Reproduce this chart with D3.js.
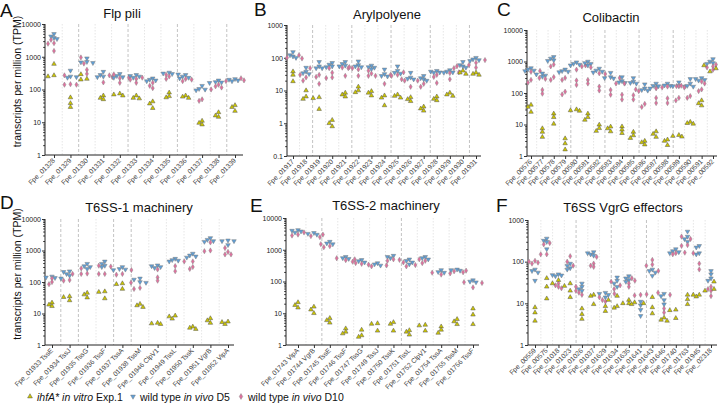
<!DOCTYPE html>
<html><head><meta charset="utf-8">
<script src="https://cdn.jsdelivr.net/npm/d3@7"></script>
<style>body{margin:0;background:#fff}svg{display:block}text{font-family:"Liberation Sans",Arial,sans-serif}</style>
</head><body><svg id="c" width="719" height="406"></svg>
<script>
// ---------- DATA ----------
const catsA = ["Fpe_01328","Fpe_01329","Fpe_01330","Fpe_01331","Fpe_01332","Fpe_01333","Fpe_01334","Fpe_01335","Fpe_01336","Fpe_01337","Fpe_01338","Fpe_01339"];
const ihfA_A = [[600,270,250],[57,38,29],[290,210,200],[65,55,50],[75,70,65],[65,55,53],[43,37,27],[80,62,57],[65,60,55],[11,9.5,8.5],[20,16,14.5],[33,29,22]];
const d5_A = [[5000,4200,3800,3500],[380,250,230,240],[900,700,680,650],[350,280,250,240],[300,260,240,230],[280,260,250,230],[220,200,190,180],[330,310,300,290],[280,250,230,220],[130,105,100,95],[190,170,165,160],[210,200,190,180]];
const d10_A = [[3300,2600,2500,1500],[270,145,140,140],[950,620,400,300],[270,240,165],[290,230,220,160],[230,210,200,160],[160,130,110],[280,250,210],[210,200,180],[100,50,45],[140,125,115],[220,190,180]];
const ticksA = [1,10,100,1000,10000];

const catsB = ["Fpe_01917","Fpe_01918","Fpe_01919","Fpe_01920","Fpe_01921","Fpe_01922","Fpe_01923","Fpe_01924","Fpe_01925","Fpe_01926","Fpe_01927","Fpe_01928","Fpe_01929","Fpe_01930","Fpe_01931"];
const ihfA_B = [[38,30,19],[10,6.5,5.5],[6.2,5.8,2.7],[1.25,1.0,0.8],[8.5,7.5,6.5],[13,10,8.8],[9.5,8.5,7],[7,6,3.5],[7.5,6.8,6],[6.2,5.4,4.7],[3.2,2.8,2.4],[6.5,5.5,5],[8.5,7.5,6.8],[40,35,32],[35,32,30]];
const d5_B = [[150,120,110,100],[50,38,34,32],[75,55,48,48],[70,62,55,52],[75,65,58,55],[78,60,55,52],[58,52,50,45],[44,32,28,27],[55,40,35,33],[35,25,23,22],[28,24,22,20],[40,38,36,35],[42,38,36,35],[75,60,55,50],[100,90,85,80]];
const d10_B = [[120,100,95],[30,25,20],[48,30,26,16],[48,35,25,24],[50,48,28],[52,48,44,28],[40,33,28],[30,28,16],[36,30,28],[22,20,13],[20,16,13],[30,26,17],[36,34,22],[60,55,48],[85,70,50]];
const ticksB = [0.1,1,10,100,1000];

const catsC = ["Fpe_00576","Fpe_00577","Fpe_00578","Fpe_00579","Fpe_00580","Fpe_00581","Fpe_00582","Fpe_00583","Fpe_00584","Fpe_00585","Fpe_00586","Fpe_00587","Fpe_00588","Fpe_00589","Fpe_00590","Fpe_00591","Fpe_00592"];
const ihfA_C = [[42,36,25],[7.5,5.8,4],[22,17,10.5],[3.6,2.5,1.6],[30,28,27],[22,17,14],[9.8,7.6,6.2],[8.5,7.5,6],[8.6,6.8,5.3],[5.8,4.5,3.7],[3.0,2.7,2.3],[6,5,4],[3.3,3.0,2.2],[4.6,4.3,4.1],[12,11,10.5],[58,47,40],[750,600,480]];
const d5_C = [[620,560,520,500],[420,390,360,330],[1400,1250,1100,1050],[560,500,480,460],[950,850,800,760],[1000,900,850,750],[600,520,480,450],[440,320,300,290],[320,240,220,210],[300,230,210,200],[190,140,125,120],[200,170,150,140],[200,175,170,165],[220,170,165,160],[280,200,170,160],[300,280,260,250],[1200,1000,900,850]];
const d10_C = [[500,470,260,215],[300,280,125,95],[800,700,320,260],[300,260,110,90],[750,550,250,180],[700,650,260,200],[420,400,160,120],[300,125,88],[200,88,62],[200,85,62],[130,115,45,36],[150,140,70,48],[165,160,68,48],[165,70,58],[170,150,80,70],[230,200,130,115],[800,700,650,550]];
const ticksC = [1,10,100,1000,10000];

const catsD = ["Fpe_01933 TssE","Fpe_01934 TssJ","Fpe_01935 TssG","Fpe_01936 TssF","Fpe_01937 TssA","Fpe_01938 TssM","Fpe_01946 ClpV1","Fpe_01949 TssL","Fpe_01950 TssK","Fpe_01951 VgrB","Fpe_01952 VipA"];
const ihfA_D = [[22,19,17],[35,33,26],[45,40,32],[50,48,30],[90,85,60],[20,18,16],[5,4.8,4.6],[8.5,8,6.8],[3.8,3.5,3.2],[7,6,5],[5.5,5.3,4.6]];
const d5_D = [[150,140,135,130],[220,210,180,160],[380,320,300,260],[450,380,330,300],[300,260,250,240],[130,120,100,95],[340,320,300,280],[550,500,480,450],[800,700,650,600],[2500,2200,2000,1900],[2100,2000,2000,1500]];
const d10_D = [[130,100,85],[180,115,110],[270,185,180],[330,310,180,180],[240,180,170],[95,65,60],[250,140,110],[450,320,220],[450,300,260],[1800,1000,950],[1200,900,750,750]];
const ticksD = [1,10,100,1000,10000];

const catsE = ["Fpe_01743 VipA","Fpe_01744 VgrB","Fpe_01745 TssE","Fpe_01746 TssF","Fpe_01747 TssG","Fpe_01749 TssJ","Fpe_01750 TssK","Fpe_01751 TssL","Fpe_01752 ClpV1","Fpe_01754 TssA","Fpe_01755 TssM","Fpe_01756 TssF"];
const ihfA_E = [[22,18,15],[16,13,10],[7,6,5],[3.3,2.6,2.3],[3.0,2.0,1.8],[4.8,4.6,2.8],[5.2,4.6,2.8],[2.9,2.6,2.1],[4.3,4.1,2.8],[3.8,3.0,2.4],[6.5,5.5,4.5],[14,9,4.5]];
const d5_E = [[4200,4000,3800,3500],[3400,3200,3000],[1800,1600,1500],[600,550,520],[480,440,400],[380,350,320],[650,600,550],[500,450,400,350],[600,550,500],[230,200,190],[240,230,220],[110,100,95]];
const d10_E = [[3500,3000,2800],[3000,2700,2500],[1500,1300,1200],[540,500,470],[420,380,360],[340,320,300],[500,480,450],[400,330,300],[500,450,380],[190,180,165],[220,210,195],[95,90,65]];
const ticksE = [1,10,100,1000,10000];

const catsF = ["Fpe_00559","Fpe_00575","Fpe_01018","Fpe_01023","Fpe_01026","Fpe_01037","Fpe_01629","Fpe_01634","Fpe_01635","Fpe_01641","Fpe_01643","Fpe_01646","Fpe_01740","Fpe_01763","Fpe_01945","Fpe_02318"];
const ihfA_F = [[8,6,3.8],[40,25,13],[36,30,26],[30,20,14],[7.5,5.5,4.2],[16,15,9.5],[12,8.5,6.5],[15,8.5,7.8],[12,10,10],[10.5,10,9.5],[14,8,5.7],[4.5,4.0,3.8],[7,6.8,4.4],[16,12.5,9.5],[16,16,14.5],[33,22,20]];
const d5_F = [[65,60,55,35],[360,320,300,200],[50,48,47,45],[90,80,70,65],[30,25,22,20],[170,160,150,140],[18,17,16,14],[42,35,30,25],[45,40,36,33],[11,9,7,5],[65,60,55,46],[17,15,12,9.5],[200,180,170,160],[530,400,350,300],[240,220,160,150],[60,50,40,35]];
const d10_F = [[105,100,95,90],[280,260,150,150],[30,27,25,23],[135,100,80],[25,20,18,16],[130,90,80,75],[17,14,12,11],[33,27,22],[40,35,30,25],[16,15.5,16.5],[110,85,80,60],[18,16,7.5,6],[165,160,150],[400,350,250,240],[160,90,65],[25,22,20,15]];
const ticksF = [1,10,100,1000];

const titles = ["Flp pili","Arylpolyene","Colibactin","T6SS-1 machinery","T6SS-2 machinery","T6SS VgrG effectors"];
const letters = ["A","B","C","D","E","F"];

// ---------- LAYOUT ----------
const layout = [
 {x0:45,x1:243,yTop:24,yBot:155,c0:54,c1:235,dark:[1,4,7,10],title:[122,18],letter:[0,17],ylab:true},
 {x0:287,x1:481,yTop:25,yBot:156,c0:293,c1:476,dark:[1,4,7,10,13],title:[387,19],letter:[254,16]},
 {x0:527,x1:717,yTop:30,yBot:156,c0:531,c1:713,dark:[3,6,9,12],title:[611,22],letter:[497,16]},
 {x0:45,x1:234,yTop:219,yBot:345,c0:52,c1:228,dark:[0,1,3,4],title:[139,212],letter:[0,209],ylab:true},
 {x0:286,x1:479,yTop:218,yBot:345,c0:298,c1:473,dark:[1,6],title:[386,210],letter:[250,212]},
 {x0:528,x1:717,yTop:220,yBot:345,c0:535,c1:711,dark:[3,6,9],title:[623,212],letter:[496,212]}
];
const panels = [
 {cats:catsA,s:[ihfA_A,d5_A,d10_A],ticks:ticksA},
 {cats:catsB,s:[ihfA_B,d5_B,d10_B],ticks:ticksB},
 {cats:catsC,s:[ihfA_C,d5_C,d10_C],ticks:ticksC},
 {cats:catsD,s:[ihfA_D,d5_D,d10_D],ticks:ticksD},
 {cats:catsE,s:[ihfA_E,d5_E,d10_E],ticks:ticksE},
 {cats:catsF,s:[ihfA_F,d5_F,d10_F],ticks:ticksF}
];
const colors = ["#cdc600","#5e9fd8","#e0709e"];
const strokes = ["#555","#7a7a7a","#8a8a8a"];
const symbols = [d3.symbolTriangle, d3.symbolTriangle, d3.symbolDiamond];
const sizes = [9,9,8];
const rotations = [0,180,0];

const svg = d3.select("#c");

panels.forEach((p,pi)=>{
  const L = layout[pi];
  const g = svg.append("g");
  const lo = p.ticks[0], hi = p.ticks[p.ticks.length-1];
  const y = d3.scaleLog().domain([lo,hi]).range([L.yBot,L.yTop]);
  const x = d3.scalePoint().domain(p.cats).range([L.c0,L.c1]);

  for(let k=0;k<p.cats.length-1;k++){
    const xs = (x(p.cats[k])+x(p.cats[k+1]))/2;
    const dk = L.dark.includes(k);
    g.append("line").attr("x1",xs).attr("x2",xs).attr("y1",L.yTop).attr("y2",L.yBot)
      .attr("stroke",dk?"#b4b4b4":"#e0e0e0").attr("stroke-width",0.8)
      .attr("stroke-dasharray",dk?"3,2":"1.5,1.5");
  }

  const yAx = g.append("g").attr("transform",`translate(${L.x0},0)`)
    .call(d3.axisLeft(y).tickValues(p.ticks).tickFormat(d=>String(d)).tickSize(3).tickSizeOuter(0));
  yAx.select(".domain").remove();
  yAx.selectAll("text").attr("font-size",7).attr("fill","#222").attr("x",-4);
  yAx.selectAll("line").attr("stroke","#333");
  const minors=[];
  for(let d=lo; d<hi*0.99; d*=10){ for(let k=2;k<=9;k++) minors.push(d*k); }
  const yMin = g.append("g").attr("transform",`translate(${L.x0},0)`)
    .call(d3.axisLeft(y).tickValues(minors).tickFormat("").tickSize(1.8));
  yMin.select(".domain").remove();
  yMin.selectAll("line").attr("stroke","#333");

  const xAx = g.append("g").attr("transform",`translate(0,${L.yBot})`)
    .call(d3.axisBottom(x).tickSize(3));
  xAx.select(".domain").remove();
  xAx.selectAll("line").attr("stroke","#333");
  xAx.selectAll("text").attr("font-size",6.8).attr("fill","#444")
    .attr("text-anchor","end").attr("dy",0).attr("y",0)
    .attr("transform","translate(1,6) rotate(-45)");

  g.append("line").attr("x1",L.x0).attr("x2",L.x0).attr("y1",L.yTop).attr("y2",L.yBot).attr("stroke","#222").attr("stroke-width",1);
  g.append("line").attr("x1",L.x0).attr("x2",L.x1).attr("y1",L.yBot).attr("y2",L.yBot).attr("stroke","#222").attr("stroke-width",1);

  const order = [1,2,0];
  p.cats.forEach((c,ci)=>{
    const placed=[];
    const cx = x(c);
    order.forEach(si=>{
      p.s[si][ci].forEach(v=>{
        const py = y(v);
        const offs=[0,-3,3,-6,6,-9,9];
        let best=offs[0];
        for(const o of offs){
          if(!placed.some(q=>Math.hypot(q[0]-(cx+o),q[1]-py)<3.2)){best=o;break;}
        }
        placed.push([cx+best,py]);
        g.append("path").attr("d",d3.symbol().type(symbols[si]).size(sizes[si])())
          .attr("transform",`translate(${cx+best},${py}) rotate(${rotations[si]})`)
          .attr("fill",colors[si]).attr("stroke",strokes[si]).attr("stroke-width",0.5);
      });
    });
  });

  g.append("text").attr("x",L.title[0]).attr("y",L.title[1]).attr("text-anchor","middle")
    .attr("font-size",13).attr("fill","#111").text(titles[pi]);
  g.append("text").attr("x",L.letter[0]).attr("y",L.letter[1])
    .attr("font-size",19).attr("fill","#111").text(letters[pi]);
  if(L.ylab){
    const cy=(L.yTop+L.yBot)/2-8;
    g.append("text").attr("transform",`translate(21,${cy}) rotate(-90)`).attr("text-anchor","middle")
      .attr("font-size",10.5).attr("fill","#111").text("transcripts per million (TPM)");
  }
});

const leg = svg.append("g").attr("transform","translate(0,397)");
const legX = [30,133,241];
const legParts = [
  [["ihfA*",true],[" in vitro",true],[" Exp.1",false]],
  [["wild type ",false],["in vivo",true],[" D5",false]],
  [["wild type ",false],["in vivo",true],[" D10",false]]
];
legX.forEach((lx,i)=>{
  leg.append("path").attr("d",d3.symbol().type(symbols[i]).size(10)())
    .attr("transform",`translate(${lx},-0.5) rotate(${rotations[i]})`)
    .attr("fill",colors[i]).attr("stroke",strokes[i]).attr("stroke-width",0.5);
  const t = leg.append("text").attr("x",lx+7).attr("y",4).attr("font-size",10.5).attr("fill","#111");
  legParts[i].forEach(pt=>t.append("tspan").attr("font-style",pt[1]?"italic":"normal").text(pt[0]));
});
</script></body></html>
